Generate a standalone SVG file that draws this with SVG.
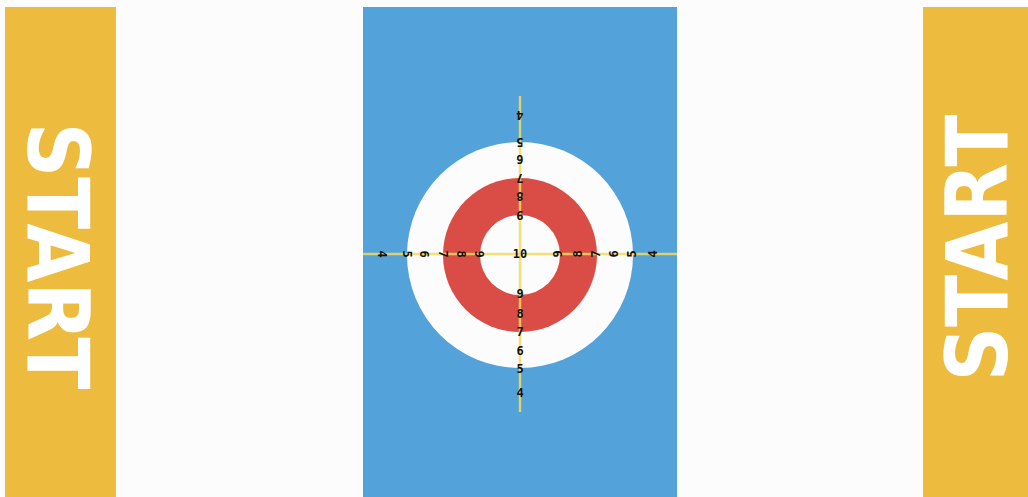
<svg xmlns="http://www.w3.org/2000/svg" width="1028" height="497" viewBox="0 0 1028 497">
<style>
.band{fill:#EDBB3E}
.start{fill:#FFFFFF;font-family:"DejaVu Sans","Liberation Sans",sans-serif;font-weight:bold;font-size:86px;text-anchor:middle}
.axis{stroke:#F4D95E;stroke-width:2.5;stroke-opacity:0.85}
.n{font-family:"DejaVu Sans Mono","Liberation Mono",monospace;font-weight:bold;font-size:12px;fill:#111;text-anchor:middle;dominant-baseline:central}
</style>
<rect x="0" y="0" width="1028" height="497" fill="#FCFCFC"/>
<g id="start-left">
<rect class="band" x="5" y="7" width="111" height="490"/>
<text class="start" transform="translate(28,256) rotate(90)" textLength="267" lengthAdjust="spacingAndGlyphs">START</text>
</g>
<g id="start-right">
<rect class="band" x="923" y="7" width="105" height="490"/>
<text class="start" transform="translate(1007,248) rotate(-90)" textLength="267" lengthAdjust="spacingAndGlyphs">START</text>
</g>
<g id="sheet">
<rect x="363" y="7" width="314" height="490" fill="#53A3DA"/>
</g>
<g id="house">
<circle cx="520" cy="255" r="113" fill="#FCFCFC"/>
<circle cx="520" cy="255" r="77" fill="#D94D46"/>
<circle cx="520" cy="255" r="40" fill="#FCFCFC"/>
</g>
<g id="axes">
<line class="axis" x1="363" y1="254" x2="677" y2="254"/>
<line class="axis" x1="520" y1="96" x2="520" y2="412"/>
</g>
<g id="labels">
<text class="n" x="520" y="254">10</text>
<g transform="translate(520,0)">
<text class="n" transform="translate(0,115) rotate(180)">4</text>
<text class="n" transform="translate(0,142) rotate(180)">5</text>
<text class="n" transform="translate(0,159) rotate(180)">6</text>
<text class="n" transform="translate(0,178) rotate(180)">7</text>
<text class="n" transform="translate(0,196) rotate(180)">8</text>
<text class="n" transform="translate(0,215) rotate(180)">9</text>
<text class="n" x="0" y="294">9</text>
<text class="n" x="0" y="314">8</text>
<text class="n" x="0" y="332">7</text>
<text class="n" x="0" y="351">6</text>
<text class="n" x="0" y="369">5</text>
<text class="n" x="0" y="393">4</text>
</g>
<g transform="translate(0,254)">
<text class="n" transform="translate(382,0) rotate(90)">4</text>
<text class="n" transform="translate(407,0) rotate(90)">5</text>
<text class="n" transform="translate(424,0) rotate(90)">6</text>
<text class="n" transform="translate(443,0) rotate(90)">7</text>
<text class="n" transform="translate(461,0) rotate(90)">8</text>
<text class="n" transform="translate(479,0) rotate(90)">9</text>
<text class="n" transform="translate(558,0) rotate(-90)">9</text>
<text class="n" transform="translate(578,0) rotate(-90)">8</text>
<text class="n" transform="translate(596,0) rotate(-90)">7</text>
<text class="n" transform="translate(614,0) rotate(-90)">6</text>
<text class="n" transform="translate(632,0) rotate(-90)">5</text>
<text class="n" transform="translate(653,0) rotate(-90)">4</text>
</g>
</g>
</svg>
